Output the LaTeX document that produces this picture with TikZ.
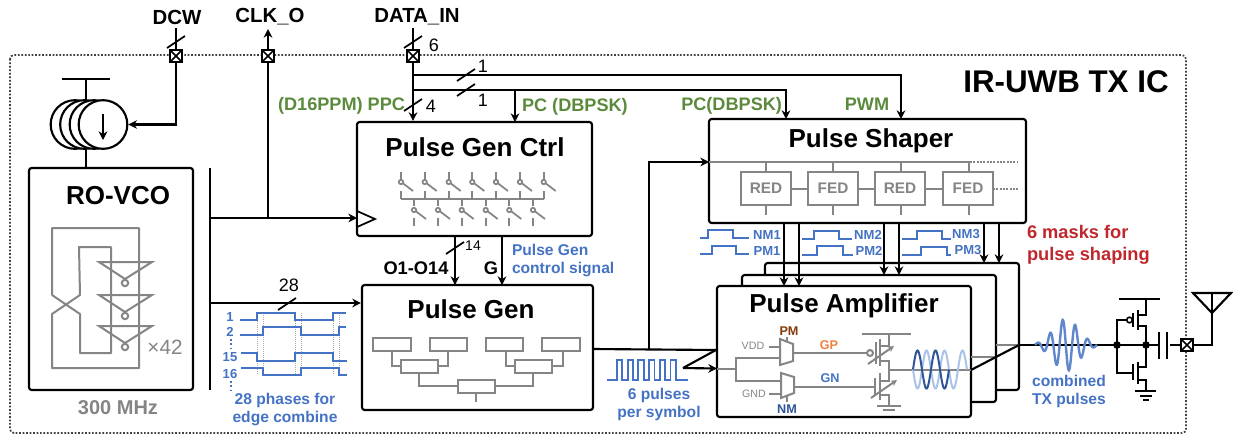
\documentclass[tikz,border=0pt]{standalone}
\usepackage{fontspec}
\setmainfont{Liberation Sans}
\usetikzlibrary{arrows.meta,calc}
\definecolor{gr}{HTML}{858585}
\definecolor{gn}{HTML}{5B8A3C}
\definecolor{bl}{HTML}{4472C4}
\definecolor{dbl}{HTML}{2F5597}
\definecolor{lbl}{HTML}{A9C4E8}
\definecolor{rd}{HTML}{C0272D}
\definecolor{orn}{HTML}{F08040}
\definecolor{brn}{HTML}{843C0C}
\tikzset{
  wire/.style={line width=1.6pt,black},
  arr/.style={wire,-{Stealth[length=6.5pt,width=6.5pt]}},
  gwire/.style={line width=1.5pt,gr},
  gwiret/.style={line width=1.3pt,gr},
  bwave/.style={line width=1.4pt,bl},
  blockbox/.style={draw=black,line width=1.6pt,rounded corners=2pt,fill=white,inner sep=0pt},
  smallbox/.style={draw=gr,line width=1.5pt,fill=white,inner sep=0pt},
  pad/.style={draw=black,line width=1.5pt,fill=white,minimum size=9pt,inner sep=0pt,
    path picture={\draw[line width=1.1pt] (path picture bounding box.north west)--(path picture bounding box.south east)
    (path picture bounding box.north east)--(path picture bounding box.south west);}},
  txt/.style={inner sep=0pt,outer sep=0pt},
  title/.style={txt,font=\bfseries\fontsize{19.5}{22}\selectfont},
  pin/.style={txt,font=\bfseries\fontsize{15.3}{17}\selectfont},
  glabel/.style={txt,text=gn,font=\bfseries\fontsize{13.6}{16}\selectfont},
  blabel/.style={txt,text=bl,font=\bfseries\fontsize{11.7}{14}\selectfont,align=center},
  mlabel/.style={txt,text=bl,font=\bfseries\fontsize{9.8}{12}\selectfont},
  num/.style={txt,font=\fontsize{13.5}{15}\selectfont},
  sw/.style={gwiret},
}
\newcommand\blk[6][]{\node[blockbox,minimum width={(#5-#3)*0.75pt},minimum height={(#6-#4)*0.75pt},#1] (#2) at ({(#3+#5)/2},{(#4+#6)/2}) {};}
\newcommand\sbx[5]{\node[smallbox,minimum width={(#4-#2)*0.75pt},minimum height={(#5-#3)*0.75pt}] (#1) at ({(#2+#4)/2},{(#3+#5)/2}) {};}
\newcommand\slashm[2]{\draw[line width=1.3pt] (#1-9,#2+6) -- (#1+9,#2-6);}
\begin{document}
\begin{tikzpicture}[x=0.75pt,y=-0.75pt]
\useasboundingbox (0,0) rectangle (1233,437);
% frame
\draw[line width=1.3pt,black!75,dash pattern=on 1.3pt off 1.3pt,rounded corners=3pt] (10,55) rectangle (1186,433);
\node[txt,font=\bfseries\fontsize{23.5}{26}\selectfont] (irtitle) at (1066,82) {IR-UWB TX IC};
% pins
\node[pin] (dcw) at (177,17) {DCW};
\node[pin] (clko) at (270,17) {CLK\_O};
\node[pin] (datain) at (417,17) {DATA\_IN};
\coordinate (pdcwc) at (176,56);
\coordinate (pclkc) at (268,56);
\coordinate (pdatac) at (413,56);
\coordinate (dcwtop) at (176,28);
\coordinate (clktop) at (268,29);
\coordinate (datatop) at (413,28);
% blocks
\blk{vco}{29}{168}{193}{390}
\blk{ctrl}{357}{122}{592}{236}
\blk{gen}{362}{285}{593}{410}
\blk{shaper}{709}{119}{1026}{223}
\blk{ampc}{765}{263}{1019}{390}
\blk{ampb}{742}{275}{996}{402}
\blk{ampa}{717}{286}{971}{417}
\node[title] (tvco) at (118,196) {RO-VCO};
\node[title] (tctrl) at (475,147) {Pulse Gen Ctrl};
\node[title] (tgen) at (471,309) {Pulse Gen};
\node[title] (tsh) at (871,141) {Pulse Shaper};
\node[title] (tamp) at (844,306) {Pulse Amplifier};
% current source
\coordinate (csvdd) at (86,79);
\draw[wire] (62,79) -- (110,79);
\draw[wire] (csvdd) -- (86,101);
\foreach \cx/\nm in {75/c1,84.5/c2,94/c3,103/c4}
  \node[draw=black,line width=1.6pt,fill=white,circle,minimum size=36.5pt,inner sep=0pt] (\nm) at (\cx,124.5) {};
\draw[wire] (86,148) -- (vco.north -| 86,0);
\draw[arr] (103,114) -- (103,140);
\draw[wire] (dcwtop) -- (pdcwc);
\slashm{176}{42}
\coordinate (dcwbend) at (176,124.5);
\draw[arr] (pdcwc) -- (dcwbend) -- (c4.east);
% clk
\draw[arr] (pclkc) -- (clktop);
\draw[wire] (210,168) -- (210,390);
\coordinate (bus1) at (210,218);
\coordinate (bus2) at (210,303);
\draw[wire] (pclkc) -- (268,218);
\draw[arr] (bus1) -- (357,218);
\draw[line width=1.3pt,fill=white] (357,211) -- (375,219) -- (357,227) -- cycle;
\draw[arr] (bus2) -- (gen.west |- bus2);
\draw[line width=2.1pt] (260,303) -- (318,303);
\slashm{287}{304}
\node[num] (n28) at (289,285) {28};
% ring osc
\draw[gwire,line join=round] (52,295)--(52,228)--(139,228)--(139,368)--(52,368)--(52,314)--(80,295)--(79,247)--(111,247)--(111,353)--(80,353)--(80,314)--(52,295);
\foreach \ty in {262,295,326}{
  \draw[gwire] (99,\ty) -- (152,\ty) -- (125,\ty+17) -- cycle;
  \draw[gwire,fill=white] (125,\ty+21) circle (3.2);
}
\node[txt,text=gr,font=\fontsize{15.5}{18}\selectfont] (x42) at (165,347) {×42};
\node[txt,text=gr,font=\bfseries\fontsize{15}{18}\selectfont] (mhz) at (118,408) {300 MHz};
% waves
\foreach \x in {257,263,295,301,333,339} \draw[gr!70,line width=.5pt,densely dotted] (\x,313) -- (\x,375);
\draw[bwave] (240,320)-|(257,313)-|(295,320)-|(333,313)--(346,313);
\draw[bwave] (240,335)-|(263,327)-|(301,335)-|(339,327)--(346,327);
\draw[bwave] (241,353)-|(257,361)-|(295,353)-|(333,361)--(347,361);
\draw[bwave] (241,368)-|(263,375)-|(301,368)-|(339,375)--(347,375);
\node[mlabel] (w1) at (230,317) {1};
\node[mlabel] (w2) at (230,332) {2};
\node[mlabel] (w15) at (230,357) {15};
\node[mlabel] (w16) at (230,374) {16};
\draw[bl,line width=1pt,dash pattern=on 1.2pt off 2pt] (231,339)--(231,349);
\draw[bl,line width=1pt,dash pattern=on 1.2pt off 2pt] (231,381)--(231,390);
\node[blabel] (cap28) at (285,409) {28 phases for\\[-.5pt]edge combine};
% ctrl switches
\foreach \x in {401,424.7,448.7,472.3,496,520,543.7}{
  \draw[sw] (\x,172)--(\x,180);
  \draw[sw,fill=white] (\x,182) circle (2.2);
  \draw[sw] (\x+1.8,183.2)--(\x+12,191);
  \draw[sw] (\x,191)--(\x,199);
}
\draw[gwire] (401,199)--(543.7,199);
\foreach \x in {414,438,461.7,485.7,509.3,533}{
  \draw[sw] (\x,199)--(\x,206);
  \draw[sw,fill=white] (\x,210) circle (2.2);
  \draw[sw] (\x+1.8,211.2)--(\x+12,219);
  \draw[sw] (\x,218)--(\x,226);
}
% data in
\draw[wire] (datatop)--(pdatac);
\slashm{413}{42}
\node[num] (n6) at (434,45) {6};
\coordinate (j75) at (413,75);
\coordinate (j90) at (413,90);
\draw[arr] (pdatac)--(pdatac |- ctrl.north);
\draw[arr] (j75)-|(901,119);
\draw[arr] (j90)-|(786,119);
\draw[arr] (515,90)--(515,122);
\slashm{466}{75}\slashm{466}{90}\slashm{413}{105}
\node[num] (n1a) at (483,66) {1};
\node[num] (n1b) at (483,100) {1};
\node[num] (n4) at (431,106) {4};
\node[glabel,anchor=east] (ppc) at (405,106) {(D16PPM) PPC};
\node[glabel,anchor=west] (pcd) at (522,107) {PC (DBPSK)};
\node[glabel,anchor=east] (pcd2) at (782,106) {PC(DBPSK)};
\node[glabel] (pwm) at (867,104) {PWM};
% pads, above their wires
\node[pad] (pdcw) at (pdcwc) {};
\node[pad] (pclk) at (pclkc) {};
\node[pad] (pdata) at (pdatac) {};
% ctrl->gen
\draw[arr] (455,236)--(455,285);
\draw[arr] (502,236)--(502,285);
\slashm{455}{248}
\node[num,font=\fontsize{10.5}{12}\selectfont] (n14) at (473,246) {14};
\node[txt,font=\bfseries\fontsize{13.7}{15}\selectfont] (o114) at (416,268) {O1-O14};
\node[txt,font=\bfseries\fontsize{13.7}{15}\selectfont] (gg) at (491,268) {G};
\node[blabel,anchor=west,align=left] (pgc) at (512,260.5) {Pulse Gen\\[-1pt]control signal};
% gen tree
\draw[gwire] (392,351)|-(401,366) (448,351)|-(438,366) (506,351)|-(515,366) (563,351)|-(552,366)
  (419,373)|-(458,386) (533,373)|-(495,386) (476,393)--(476,402);
\sbx{t1}{373}{338}{411}{351}\sbx{t2}{430}{338}{467}{351}\sbx{t3}{486}{338}{523}{351}\sbx{t4}{542}{338}{580}{351}
\sbx{m1}{401}{360}{438}{373}\sbx{m2}{515}{360}{552}{373}\sbx{b1}{458}{380}{495}{393}
% output of gen
\coordinate (gj) at (649,349);
\coordinate (ajoin) at (716,350);
\coordinate (sl) at (683,368);
\draw[wire] (593,349)--(ajoin);
\draw[arr] (gj)|-(709,162);
\draw[wire] (sl)--(ajoin);
\draw[arr] (sl)--(717,368.5);
\draw[bl,line width=1.4pt] (607,380)--(617,380)
  \foreach \i in {0,...,5}{ -- ({617+10.7*\i},360) -- ({622.4+10.7*\i},360) -- ({622.4+10.7*\i},380) -- ({627.7+10.7*\i},380) }
  -- (688,380);
\node[blabel] (p6) at (659,404) {6 pulses\\[-.5pt]per symbol};
% shaper
\draw[gwire] (709,162)--(970,162);
\draw[gwire,densely dotted] (970,162)--(1018,162);
\foreach \x in {766,833,901,969}{
  \draw[gwire] (\x,162)--(\x,172);
  \draw[gwire] (\x,205)--(\x,215);
}
\draw[gwire] (791,189)--(943,189);
\draw[gwire,densely dotted] (993,189)--(1018,189);
\foreach \xa/\xb/\tx/\nm in {741/791/RED/s1,808/858/FED/s2,875/925/RED/s3,943/993/FED/s4}{
  \node[smallbox,minimum width=37.5pt,minimum height=24.75pt,text=gr,font=\bfseries\fontsize{11.5}{14}\selectfont] (\nm) at ({(\xa+\xb)/2},188.5) {\tx};
}
% masks
\draw[bwave] (700,238)-|(708,230)-|(733,238)--(749,238);
\draw[bwave] (700,254)-|(712,246)-|(736,254)--(749,254);
\draw[bwave] (802,239)-|(814,231)-|(839,239)--(852,239);
\draw[bwave] (802,255)-|(817,246)-|(843,255)--(853,255);
\draw[bwave] (902,239)-|(917,231)-|(942,239)--(951,239);
\draw[bwave] (902,255)-|(921,247)-|(947,255)--(951,255);
\foreach \lx/\ly/\tx/\nm in {767/235/NM1/la,767/251/PM1/lb,868/235/NM2/lc,869/251/PM2/ld,966/234/NM3/le,968/250/PM3/lf}
  \node[mlabel] (\nm) at (\lx,\ly) {\tx};
\node[txt,text=rd,font=\bfseries\fontsize{13.7}{16.5}\selectfont,align=left,anchor=west] (masks) at (1027,245) {6 masks for\\pulse shaping};
% arrows to amps
\draw[arr] (784,223)--(784,286);
\draw[arr] (799,223)--(799,286);
\draw[arr] (884,223)--(884,275);
\draw[arr] (899,223)--(899,275);
\draw[arr] (984,223)--(984,263);
\draw[arr] (999,223)--(999,263);
% amp interior
\draw[gwire] (717,369)--(736,369);
\draw[gwire] (780,358)-|(736,381)--(781,381);
\draw[gwire,fill=white] (780,339)--(793,344)--(793,361)--(780,365)--cycle;
\draw[gwire,fill=white] (781,373)--(794,377)--(794,393)--(781,398)--cycle;
\draw[gwire] (793,353)--(866,353) (794,386.7)--(875,386.7);
\draw[gwire] (769,347)--(780,347) (769,394)--(781,394) (787,341)--(787,337) (787,396)--(787,402);
\node[txt,text=gr,font=\fontsize{8}{10}\selectfont] (vdd) at (753,346) {VDD};
\node[txt,text=gr,font=\fontsize{8}{10}\selectfont] (gnd) at (754,394) {GND};
\node[txt,text=brn,font=\bfseries\fontsize{9.5}{12}\selectfont] (pm) at (789,331) {PM};
\node[txt,text=dbl,font=\bfseries\fontsize{9.5}{12}\selectfont] (nm) at (787,409) {NM};
\node[txt,text=orn,font=\bfseries\fontsize{9.5}{12}\selectfont] (gp) at (829,345) {GP};
\node[txt,text=bl,font=\bfseries\fontsize{9.5}{12}\selectfont] (gnl) at (830,378) {GN};
% amp transistors
\draw[gwire] (862,334)--(911,334);
\draw[gwire] (889,334)--(889,346)--(880,346) (880,361)--(889,361)--(889,381)--(880,381) (880,395)--(889,395)--(889,405);
\draw[gwire] (880,339)--(880,366) (876,342)--(876,364) (880,373)--(880,400) (875,378)--(875,396);
\draw[gwire,fill=white] (870,353) circle (3);
\draw[gwire,-{Stealth[length=4.5pt,width=4.5pt]}] (868,364)--(894,346);
\draw[gwire,-{Stealth[length=4.5pt,width=4.5pt]}] (871,398)--(897,380);
\draw[gwire] (877,406)--(901,406) (883,410)--(895,410);
\draw[gwire] (889,370)--(971,370);
\draw[lbl,line width=1.5pt] plot[domain=913:967,samples=110,smooth] (\x,{369.5-19*sin(20*(\x-913)+180)});
\draw[dbl,line width=1.5pt] plot[domain=913:949,samples=80,smooth] (\x,{369.5-19*sin(20*(\x-913))});
% outputs
\draw[gwire] (971,357)--(996,357) (996,345)--(1019,345);
\draw[wire] (971,370)--(1019,345);
\coordinate (outj) at (1019,345);
\coordinate (n1) at (1117,345);
\coordinate (n2) at (1146,345);
\draw[wire] (outj)--(n2);
\draw[line width=1.8pt,bl!85] plot[domain=1035:1097,samples=140,smooth] (\x,{345-26*cos(28.8*(\x-1062.7))*exp(-((\x-1066)/18)^2)});
\draw[wire] (n2)--(1159,345);
\node[blabel] (ctx) at (1069,391.5) {combined\\[-.5pt]TX pulses};
% output stage
\draw[wire] (1119,299)--(1160,299);
\draw[wire] (1146,299)--(1146,315)--(1138,315) (1138,326)--(1146,326)--(1146,367)--(1138,367) (1138,380)--(1146,380)--(1146,391);
\draw[wire] (1138,310)--(1138,330) (1133,313)--(1133,327) (1138,362)--(1138,384) (1133,364)--(1133,380);
\draw[line width=1.2pt,fill=white] (1129.5,320) circle (2.8);
\draw[wire] (1126.5,320)-|(n1) |-(1133,373);
\draw[wire] (1135,391)--(1156,391);
\draw[line width=1.3pt] (1140,396)--(1152,396) (1143,400)--(1149,400);
\fill (n1) circle (3.8);
\fill (n2) circle (3.8);
\draw[wire] (1159,332)--(1159,359) (1167,332)--(1167,359);
\coordinate (poutc) at (1187,345);
\coordinate (antb) at (1212,345);
\draw[wire] (1170,345)--(poutc);
\draw[wire] (poutc)--(antb)--(1212,293);
\draw[wire,line join=miter] (1193,293)--(1231,293)--(1212,313)--cycle;
\node[pad] (pout) at (poutc) {};
\end{tikzpicture}
\end{document}
